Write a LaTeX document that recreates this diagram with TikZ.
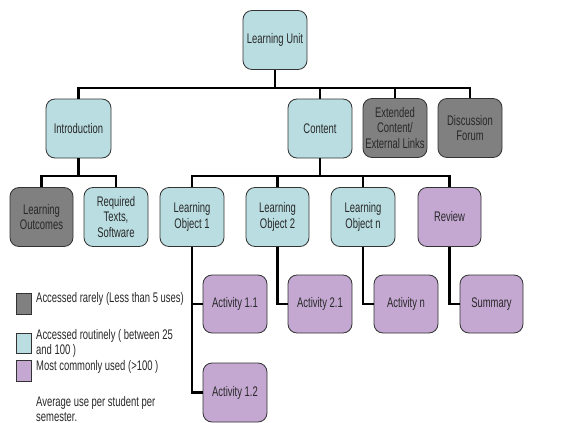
\documentclass[tikz,border=0pt]{standalone}
\usepackage{fontspec}
\setmainfont{Liberation Sans}[FakeStretch=0.68]
\definecolor{lblue}{RGB}{185,221,225}
\definecolor{dgray}{RGB}{128,128,128}
\definecolor{lpurple}{RGB}{196,168,210}
\definecolor{txt}{RGB}{40,40,40}
\begin{document}
\begin{tikzpicture}[x=1pt,y=-1pt,
  box/.style={draw=black!80, line width=0.8pt, rounded corners=9pt,
    minimum width=64pt, minimum height=59pt, inner sep=1pt, align=center,
    font=\fontsize{13.9}{15.5}\selectfont, text=txt},
  bluebox/.style={box, fill=lblue},
  graybox/.style={box, fill=dgray},
  purplebox/.style={box, fill=lpurple},
  conn/.style={line width=2.7pt, draw=black},
  legsq/.style={draw=black!80, line width=0.6pt, minimum width=15pt, inner sep=0pt},
  legtxt/.style={anchor=base west, inner sep=0pt, font=\fontsize{13.9}{15.5}\selectfont, text=txt}]
\fill[white] (0,0) rectangle (566,423);
\useasboundingbox (0,0) rectangle (566,423);

% level 0
\node[bluebox] (LU) at (275,40) {Learning Unit};
% level 1
\node[bluebox, minimum width=65pt] (intro) at (78.5,128.5) {Introduction};
\node[bluebox] (content) at (320,128.5) {Content};
\node[graybox] (ext) at (395,128) {Extended\\Content/\\External Links};
\node[graybox] (disc) at (470,128) {Discussion\\Forum};
% level 2
\node[graybox, minimum width=63pt] (lout) at (41.5,217) {Learning\\Outcomes};
\node[bluebox] (req) at (116,217) {Required\\Texts,\\Software};
\node[bluebox] (lo1) at (192,217) {Learning\\Object 1};
\node[bluebox, minimum width=63pt] (lo2) at (277.5,217) {Learning\\Object 2};
\node[bluebox] (lon) at (363,217) {Learning\\Object n};
\node[purplebox, minimum width=63pt] (rev) at (449.5,217) {Review};
% level 3
\node[purplebox, minimum height=58pt] (a11) at (235,304) {Activity 1.1};
\node[purplebox, minimum height=58pt] (a21) at (320,304) {Activity 2.1};
\node[purplebox, minimum height=58pt] (an) at (406,304) {Activity n};
\node[purplebox, minimum height=58pt, minimum width=63pt] (summ) at (491.5,304) {Summary};
\node[purplebox] (a12) at (235,392.5) {Activity 1.2};

% connectors
\coordinate (b1) at (275,88);
\coordinate (b2) at (78.5,176);
\coordinate (b3) at (320,176);
\draw[conn] (LU.south) -- (b1);
\draw[conn] (b1) -| (intro.north);
\draw[conn] (b1) -| (content.north);
\draw[conn] (b1) -| (ext.north);
\draw[conn] (b1) -| (disc.north);
\draw[conn] (intro.south) -- (b2);
\draw[conn] (b2) -| (lout.north);
\draw[conn] (b2) -| (req.north);
\draw[conn] (content.south) -- (b3);
\draw[conn] (b3) -| (lo1.north);
\draw[conn] (b3) -| (lo2.north);
\draw[conn] (b3) -| (lon.north);
\draw[conn] (b3) -| (rev.north);
\draw[conn] (lo1.south) |- (a11.west);
\draw[conn] (lo1.south) |- (a12.west);
\draw[conn] (lo2.south) |- (a21.west);
\draw[conn] (lon.south) |- (an.west);
\draw[conn] (rev.south) |- (summ.west);

% legend
\node[legsq, fill=dgray, minimum height=21pt] (lg1) at (23.5,303.5) {};
\node[legsq, fill=lblue, minimum height=20pt] (lg2) at (23.5,343) {};
\node[legsq, fill=lpurple, minimum height=21pt] (lg3) at (23.5,370.5) {};
\node[legtxt] (t1) at (36,302) {Accessed rarely (Less than 5 uses)};
\node[legtxt] (t2) at (36,339) {Accessed routinely ( between 25};
\node[legtxt] (t3) at (36,354) {and 100 )};
\node[legtxt] (t4) at (36,370) {Most commonly used (>100 )};
\node[legtxt] (t5) at (36,406) {Average use per student per};
\node[legtxt] (t6) at (36,421) {semester.};
\end{tikzpicture}
\end{document}
